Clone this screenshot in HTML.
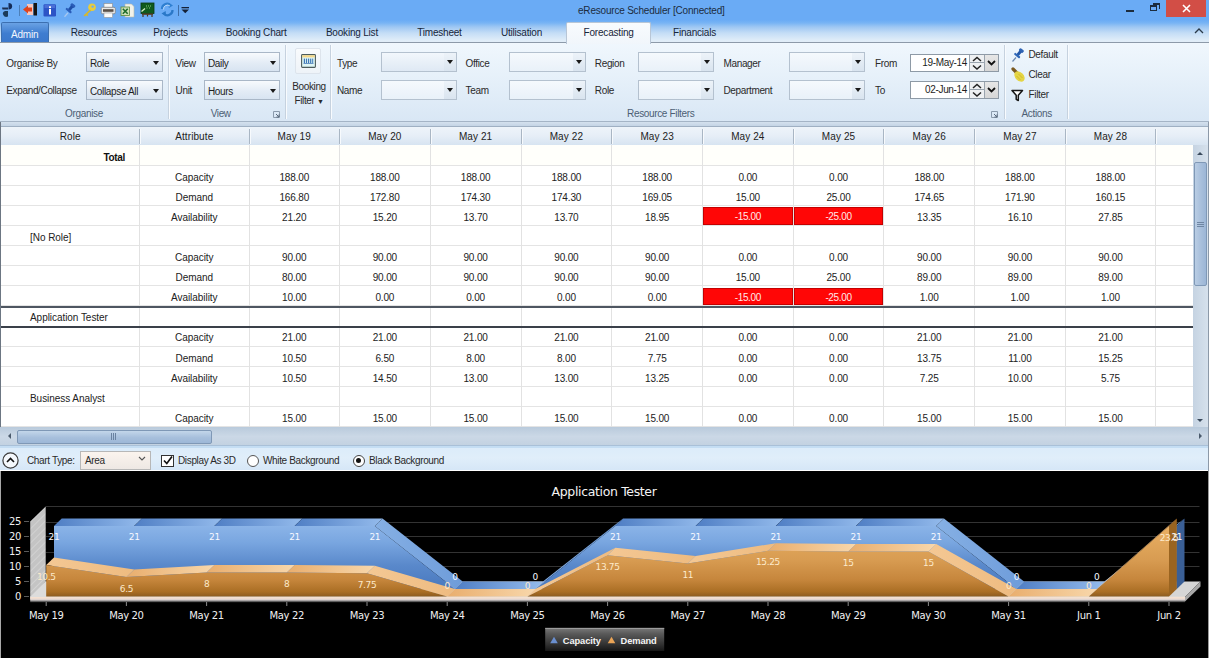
<!DOCTYPE html><html><head><meta charset="utf-8"><title>eResource Scheduler</title><style>
*{box-sizing:border-box;margin:0;padding:0}
html,body{width:1209px;height:658px;overflow:hidden;background:#fff}
body{position:relative;font-family:'Liberation Sans', Arial, sans-serif;font-size:10px;letter-spacing:-0.35px;color:#1e1e1e}
.a{position:absolute}
.t{position:absolute;white-space:nowrap;line-height:12px}
#title{left:0;top:0;width:1209px;height:42px;background:linear-gradient(#6aabf5 0px,#6aabf5 20px,#78b4f4 23px,#9ec7f3 27px,#c4ddf6 33px,#dbeaf8 39px,#e1edf8 41px)}
#ribbon{left:0;top:42px;width:1209px;height:80px;border-top:1px solid #8d9aa9;border-bottom:1px solid #a4b4c6;background:linear-gradient(#f0f7fd,#e7f1fa 40%,#d9e7f5)}
.grp{position:absolute;top:0;height:78px;border-right:1px solid #c3d0de}
.gl{position:absolute;white-space:nowrap;color:#4c5e74;line-height:12px}
.lbl{position:absolute;white-space:nowrap;color:#2a2a2a;line-height:12px}
.cb{position:absolute;height:20px;border:1px solid #a9b7c7;background:linear-gradient(#f7fafd,#e2ebf5 60%,#d8e4f1)}
.cb .v{position:absolute;left:3px;top:4.6px;line-height:12px;color:#1e1e1e}
.cb .ar{position:absolute;right:3.5px;top:7.5px;width:0;height:0;border-left:3.5px solid transparent;border-right:3.5px solid transparent;border-top:4px solid #1a1a1a}
.cbe{position:absolute;height:20px;border:1px solid #b4c1cf;background:linear-gradient(#f5f9fd,#e9f1f9)}
.cbe .btn{position:absolute;right:0;top:0;width:12px;height:18px;background:linear-gradient(#edf3f9,#d9e4ef)}
.cbe .ar{position:absolute;right:3px;top:7px;width:0;height:0;border-left:3px solid transparent;border-right:3px solid transparent;border-top:4px solid #1a1a1a}
.tab{position:absolute;top:25px;white-space:nowrap;color:#17263a;line-height:12px;letter-spacing:-0.2px}
#grid{left:0;top:122px;width:1209px;height:306px;background:#fff}
.hd{position:absolute;top:5px;height:18px;background:linear-gradient(#eef4fa,#e4edf6 50%,#d6e3f0);}
.row{position:absolute;left:1px;width:1192px;height:20px;border-bottom:1px solid #e3e3e3}
.cell{position:absolute;top:0;height:20px;text-align:center;line-height:20px;white-space:nowrap}
.vl{position:absolute;width:1px;background:#e1e1e1}
.red{position:absolute;background:#ff0606;border:1px solid #c40000;color:#ffe8e8;text-align:center;line-height:17px}
</style></head><body>
<div id="title" class="a"></div>
<svg class="a" style="left:0;top:0" width="200" height="21" viewBox="0 0 200 21"><path d="M8.5 3 A3.6 3.2 0 0 1 8.5 9.4 Z" fill="#142c58"/><path d="M2 7.6 H8 V9.6 H2.5 Z" fill="#1c3050"/><path d="M8 11 V16.5 A3.5 3 0 0 1 5 11 Z" fill="#1a3a5a"/><rect x="19" y="5" width="1" height="11" fill="#4d7fb8"/><rect x="27" y="4" width="6" height="11" fill="#f4c8c0"/><rect x="33.5" y="3" width="3.5" height="12.5" fill="#151515"/><path d="M23 9.5 L28 5.5 V7.5 H32 V11.5 H28 V13.5 Z" fill="#e0441c"/><rect x="43.5" y="4.2" width="12.5" height="12.2" rx="1.2" fill="#2d54c6"/><rect x="44.5" y="5" width="10.5" height="3" fill="#4a6ed6"/><rect x="49" y="9" width="2" height="5.5" fill="#fff"/><rect x="49" y="6.3" width="2" height="1.8" fill="#fff"/><path d="M64.5 16.8 L68 12.8" stroke="#a8c8f0" stroke-width="1.3"/><g transform="rotate(40 70 9)"><rect x="67.5" y="3" width="5" height="3" rx="1" fill="#2a5cb8"/><rect x="68.5" y="5.5" width="3" height="5" fill="#1f4fa8"/><rect x="66.5" y="10" width="7" height="2.2" rx="1" fill="#2a5cb8"/></g><circle cx="92" cy="7.2" r="3.8" fill="#e8cc3c"/><circle cx="92.6" cy="6.6" r="1.2" fill="#6aabf5"/><path d="M89.8 9.6 L83.5 15.5 L85 16.5 L86.2 15.3 L87.3 16.2 L88.4 15 L87.4 14.1 L91.3 10.8 Z" fill="#d8b828"/><rect x="104" y="3.5" width="8.5" height="4" fill="#f6f6f6" stroke="#8a8a8a" stroke-width="0.6"/><rect x="101.3" y="7.3" width="14" height="6.5" rx="1.3" fill="#e8e8e8" stroke="#7a7a7a" stroke-width="0.7"/><rect x="103" y="9.2" width="10.5" height="2.6" fill="#5a5048"/><rect x="104" y="13" width="8.5" height="4.3" fill="#fbfbfb" stroke="#9a9a9a" stroke-width="0.6"/><path d="M125 4 H131.5 L134 6.5 V17 H125 Z" fill="#f2f2ea" stroke="#b8b8a8" stroke-width="0.6"/><rect x="121" y="7" width="8.5" height="8.5" fill="#cfe0b8" stroke="#5a8a3a" stroke-width="0.8"/><path d="M122.8 8.8 L127.7 13.7 M127.7 8.8 L122.8 13.7" stroke="#1d6b2a" stroke-width="1.6"/><rect x="141" y="3" width="13" height="10.5" fill="#0f5a1e" stroke="#0a3a12" stroke-width="0.8"/><path d="M141.5 11.5 L145 8.5" stroke="#d8f0c8" stroke-width="1.3"/><path d="M146 6 h1 M148 6 h1 M150 6 h1 M146.5 8 h1 M149 8 h1" stroke="#8ad07a" stroke-width="1"/><rect x="142" y="13.5" width="11" height="1.3" fill="#5a3818"/><path d="M143 14.5 V17 M152 14.5 V17 M147.5 14.5 V16.5" stroke="#4a3018" stroke-width="1.2"/><path d="M162 9 A5 5 0 0 1 170.5 5.2" stroke="#2f7fd0" stroke-width="2.2" fill="none"/><path d="M168.5 2.8 L173 5.5 L168.8 8 Z" fill="#2f7fd0"/><path d="M172.5 10 A5 5 0 0 1 164 13.8" stroke="#2a78c8" stroke-width="2.2" fill="none"/><path d="M166 16.2 L161.5 13.5 L165.7 11 Z" fill="#2a78c8"/><path d="M163.5 9.5 A4 4 0 0 1 170 6" stroke="#cfe6fb" stroke-width="0.8" fill="none"/><rect x="178" y="5" width="1" height="11" fill="#3e6ea8"/><rect x="181.5" y="7" width="7.5" height="1.3" fill="#152238"/><path d="M181.5 9.5 H189 L185.25 13.2 Z" fill="#152238"/></svg>
<div class="t" style="left:578px;top:4.5px;color:#1c2c3e;letter-spacing:-0.2px">eResource Scheduler [Connected]</div>
<div class="a" style="left:1126px;top:10px;width:8px;height:2px;background:#1c2c3e"></div>
<div class="a" style="left:1150px;top:5px;width:7px;height:6px;border:1px solid #1c2c3e;border-top-width:2px"></div>
<div class="a" style="left:1153px;top:3px;width:7px;height:6px;border:1px solid #1c2c3e;border-top-width:2px;border-left:none;border-bottom:none"></div>
<div class="a" style="left:1166px;top:0;width:40px;height:17px;background:#d24e46"></div>
<svg class="a" style="left:1182px;top:4px" width="10" height="10"><path d="M1 1 L8 8 M8 1 L1 8" stroke="#fff" stroke-width="1.6"/></svg>
<svg class="a" style="left:1194px;top:27px" width="10" height="8"><path d="M1 6 L5 2 L9 6" stroke="#2a3a4a" stroke-width="1.3" fill="none"/></svg>
<div id="ribbon" class="a"></div>
<div class="a" style="left:1px;top:22px;width:48px;height:20px;border:1px solid #3c6fb0;border-bottom:none;border-radius:2px 2px 0 0;background:linear-gradient(#6aa2e4,#3f7dd0 55%,#3b78cc)"></div>
<div class="tab" style="left:11px;top:28.5px;color:#f2f7ff">Admin</div>
<div class="tab" style="left:70.7px;top:27px">Resources</div>
<div class="tab" style="left:153.3px;top:27px">Projects</div>
<div class="tab" style="left:225.8px;top:27px">Booking Chart</div>
<div class="tab" style="left:325.9px;top:27px">Booking List</div>
<div class="tab" style="left:417.2px;top:27px">Timesheet</div>
<div class="tab" style="left:500.9px;top:27px">Utilisation</div>
<div class="tab" style="left:673px;top:27px">Financials</div>
<div class="a" style="left:566px;top:22px;width:85px;height:22px;border:1px solid #b8c6d6;border-bottom:none;border-radius:2px 2px 0 0;background:linear-gradient(#f8fbfe,#f1f6fb)"></div>
<div class="tab" style="left:583.6px;top:27px">Forecasting</div>
<div class="a" style="left:168px;top:45px;width:1px;height:74px;background:#c6d2df"></div>
<div class="a" style="left:169px;top:45px;width:1px;height:74px;background:#f8fbfe"></div>
<div class="a" style="left:285px;top:45px;width:1px;height:74px;background:#c6d2df"></div>
<div class="a" style="left:286px;top:45px;width:1px;height:74px;background:#f8fbfe"></div>
<div class="a" style="left:330px;top:45px;width:1px;height:74px;background:#c6d2df"></div>
<div class="a" style="left:331px;top:45px;width:1px;height:74px;background:#f8fbfe"></div>
<div class="a" style="left:1004px;top:45px;width:1px;height:74px;background:#c6d2df"></div>
<div class="a" style="left:1005px;top:45px;width:1px;height:74px;background:#f8fbfe"></div>
<div class="a" style="left:1067px;top:45px;width:1px;height:74px;background:#c6d2df"></div>
<div class="a" style="left:1068px;top:45px;width:1px;height:74px;background:#f8fbfe"></div>
<div class="lbl" style="left:6.3px;top:58.3px;">Organise By</div>
<div class="lbl" style="left:6.3px;top:85.3px;">Expand/Collapse</div>
<div class="cb" style="left:86px;top:52px;width:77px;height:20px"><span class="v">Role</span><span class="ar"></span></div>
<div class="cb" style="left:86px;top:80px;width:77px;height:20px"><span class="v">Collapse All</span><span class="ar"></span></div>
<div class="gl" style="left:-16px;width:200px;text-align:center;top:107.7px">Organise</div>
<div class="lbl" style="left:175.6px;top:58.3px;">View</div>
<div class="lbl" style="left:175.6px;top:85.3px;">Unit</div>
<div class="cb" style="left:204px;top:52px;width:76px;height:20px"><span class="v">Daily</span><span class="ar"></span></div>
<div class="cb" style="left:204px;top:80px;width:76px;height:20px"><span class="v">Hours</span><span class="ar"></span></div>
<div class="gl" style="left:120.69999999999999px;width:200px;text-align:center;top:107.7px">View</div>
<svg class="a" style="left:273px;top:111px" width="8" height="8"><path d="M0.5 0.5 h6 v6 h-6 z" fill="none" stroke="#8a9aac" stroke-width="1"/><path d="M3 3 L6 6 M6 3.5 V6 H3.5" stroke="#5a6a7c" fill="none"/></svg>
<svg class="a" style="left:991px;top:111px" width="8" height="8"><path d="M0.5 0.5 h6 v6 h-6 z" fill="none" stroke="#8a9aac" stroke-width="1"/><path d="M3 3 L6 6 M6 3.5 V6 H3.5" stroke="#5a6a7c" fill="none"/></svg>
<div class="a" style="left:294.5px;top:47.5px;width:26.5px;height:26.5px;border:1px solid #dde4ec;border-radius:2px;background:linear-gradient(#f9fbfd,#eef3f8)"></div>
<svg class="a" style="left:301px;top:54px" width="15" height="14"><rect x="0.6" y="0.6" width="13.8" height="12.8" rx="0.8" fill="#dff6f4" stroke="#4d5c5c" stroke-width="1.1"/><rect x="1.2" y="1.2" width="12.6" height="2.2" fill="#f4d88a"/><g fill="#3f78b8"><rect x="2.8" y="4.6" width="1.2" height="4.4"/><rect x="4.9" y="4.6" width="1.2" height="4.4"/><rect x="7" y="4.6" width="1.2" height="4.4"/><rect x="9.1" y="4.6" width="1.2" height="4.4"/><rect x="11.2" y="4.6" width="1" height="4.4"/></g><rect x="2.5" y="9" width="10" height="0.9" fill="#5a8ac0"/></svg>
<div class="lbl" style="left:259px;width:100px;text-align:center;top:81px">Booking</div>
<div class="lbl" style="left:259px;width:100px;text-align:center;top:95px">Filter <span style="font-size:7px">&#9660;</span></div>
<div class="lbl" style="left:337px;top:58.3px;">Type</div>
<div class="lbl" style="left:337px;top:85.3px;">Name</div>
<div class="cbe" style="left:380.6px;top:52px;width:76px;height:20px;background:linear-gradient(#f2f7fc,#dfe9f4);"><span class="btn"></span><span class="ar"></span></div>
<div class="cbe" style="left:380.6px;top:80px;width:76px;height:20px;"><span class="btn"></span><span class="ar"></span></div>
<div class="lbl" style="left:465.6px;top:58.3px;">Office</div>
<div class="lbl" style="left:465.6px;top:85.3px;">Team</div>
<div class="cbe" style="left:509px;top:52px;width:77px;height:20px;"><span class="btn"></span><span class="ar"></span></div>
<div class="cbe" style="left:509px;top:80px;width:77px;height:20px;"><span class="btn"></span><span class="ar"></span></div>
<div class="lbl" style="left:594.8px;top:58.3px;">Region</div>
<div class="lbl" style="left:594.8px;top:85.3px;">Role</div>
<div class="cbe" style="left:638.3px;top:52px;width:76px;height:20px;"><span class="btn"></span><span class="ar"></span></div>
<div class="cbe" style="left:638.3px;top:80px;width:76px;height:20px;"><span class="btn"></span><span class="ar"></span></div>
<div class="lbl" style="left:723.5px;top:58.3px;">Manager</div>
<div class="lbl" style="left:723.5px;top:85.3px;">Department</div>
<div class="cbe" style="left:789.2px;top:52px;width:76px;height:20px;"><span class="btn"></span><span class="ar"></span></div>
<div class="cbe" style="left:789.2px;top:80px;width:76px;height:20px;"><span class="btn"></span><span class="ar"></span></div>
<div class="lbl" style="left:875px;top:58.3px;">From</div>
<div class="lbl" style="left:875px;top:85.3px;">To</div>
<div class="gl" style="left:560.7px;width:200px;text-align:center;top:107.7px">Resource Filters</div>
<div class="a" style="left:910px;top:54px;width:89px;height:18px;border:1px solid #8e9aa6;background:#fff"></div>
<div class="lbl" style="left:911px;width:56px;text-align:right;top:57px;color:#1e1e1e">19-May-14</div>
<div class="a" style="left:969px;top:55px;width:15px;height:16px;background:#eef0f2;border-left:1px solid #9aa4ae"></div>
<div class="a" style="left:969px;top:62px;width:15px;height:1px;background:#9aa4ae"></div>
<svg class="a" style="left:971px;top:55px" width="12" height="16"><path d="M2 6 L6 2.5 L10 6" stroke="#222" stroke-width="1.5" fill="none"/><path d="M2 10.5 L6 14 L10 10.5" stroke="#222" stroke-width="1.5" fill="none"/></svg>
<div class="a" style="left:984px;top:55px;width:14px;height:16px;background:linear-gradient(#e6e6e6,#d6d6d6);border-left:1px solid #9aa4ae"></div>
<svg class="a" style="left:986px;top:59px" width="11" height="8"><path d="M2 2 L5.5 5.5 L9 2" stroke="#111" stroke-width="1.8" fill="none"/></svg>
<div class="a" style="left:910px;top:81px;width:89px;height:18px;border:1px solid #8e9aa6;background:#fff"></div>
<div class="lbl" style="left:911px;width:56px;text-align:right;top:84px;color:#1e1e1e">02-Jun-14</div>
<div class="a" style="left:969px;top:82px;width:15px;height:16px;background:#eef0f2;border-left:1px solid #9aa4ae"></div>
<div class="a" style="left:969px;top:89px;width:15px;height:1px;background:#9aa4ae"></div>
<svg class="a" style="left:971px;top:82px" width="12" height="16"><path d="M2 6 L6 2.5 L10 6" stroke="#222" stroke-width="1.5" fill="none"/><path d="M2 10.5 L6 14 L10 10.5" stroke="#222" stroke-width="1.5" fill="none"/></svg>
<div class="a" style="left:984px;top:82px;width:14px;height:16px;background:linear-gradient(#e6e6e6,#d6d6d6);border-left:1px solid #9aa4ae"></div>
<svg class="a" style="left:986px;top:86px" width="11" height="8"><path d="M2 2 L5.5 5.5 L9 2" stroke="#111" stroke-width="1.8" fill="none"/></svg>
<svg class="a" style="left:1011px;top:47px" width="14" height="16"><path d="M1.5 14.5 L5 10.5" stroke="#6a88b0" stroke-width="1.2"/><g transform="rotate(40 7.5 7)"><rect x="5" y="1" width="5" height="3" rx="1" fill="#2f64b4"/><rect x="6" y="3.5" width="3" height="5" fill="#2458a8"/><rect x="4" y="8" width="7" height="2.2" rx="1" fill="#3068b8"/></g></svg>
<svg class="a" style="left:1010px;top:66px" width="17" height="18"><path d="M3 3 L6.5 6.5" stroke="#7a5a22" stroke-width="3.2" stroke-linecap="round"/><ellipse cx="9.5" cy="10.5" rx="6" ry="4.2" transform="rotate(45 9.5 10.5)" fill="#e4d444"/><path d="M6.5 10 L10.5 14 M8.5 8 L12.5 12" stroke="#c9b228" stroke-width="0.8"/></svg>
<svg class="a" style="left:1011px;top:89px" width="13" height="13"><path d="M1 1.5 H11.5 L7.3 6.3 V11.5 L5.2 10.3 V6.3 Z" fill="#fff" stroke="#151515" stroke-width="1.5" stroke-linejoin="round"/></svg>
<div class="lbl" style="left:1028.5px;top:49.3px;">Default</div>
<div class="lbl" style="left:1028.5px;top:69.3px;">Clear</div>
<div class="lbl" style="left:1028.5px;top:89.3px;">Filter</div>
<div class="gl" style="left:936.7px;width:200px;text-align:center;top:107.7px">Actions</div>
<div class="a" style="left:0;top:122px;width:1209px;height:5px;background:linear-gradient(#d4e1ee,#c4d4e5);border-bottom:1px solid #9fb0c3"></div>
<div class="a" style="left:0;top:127px;width:1209px;height:18px;background:linear-gradient(#eef4fa,#e6eef7 50%,#d7e4f1)"></div>
<div class="a" style="left:0;top:122px;width:1px;height:306px;background:#6c7682"></div>
<div class="t" style="left:1px;width:138.5px;text-align:center;top:131px;color:#222;letter-spacing:0.1px">Role</div>
<div class="t" style="left:139.5px;width:109.5px;text-align:center;top:131px;color:#222;letter-spacing:0.1px">Attribute</div>
<div class="t" style="left:249px;width:90.5px;text-align:center;top:131px;color:#222;letter-spacing:0.1px">May 19</div>
<div class="t" style="left:339.5px;width:90.69999999999999px;text-align:center;top:131px;color:#222;letter-spacing:0.1px">May 20</div>
<div class="t" style="left:430.2px;width:90.80000000000001px;text-align:center;top:131px;color:#222;letter-spacing:0.1px">May 21</div>
<div class="t" style="left:521px;width:90.79999999999995px;text-align:center;top:131px;color:#222;letter-spacing:0.1px">May 22</div>
<div class="t" style="left:611.8px;width:90.70000000000005px;text-align:center;top:131px;color:#222;letter-spacing:0.1px">May 23</div>
<div class="t" style="left:702.5px;width:90.70000000000005px;text-align:center;top:131px;color:#222;letter-spacing:0.1px">May 24</div>
<div class="t" style="left:793.2px;width:90.69999999999993px;text-align:center;top:131px;color:#222;letter-spacing:0.1px">May 25</div>
<div class="t" style="left:883.9px;width:90.70000000000005px;text-align:center;top:131px;color:#222;letter-spacing:0.1px">May 26</div>
<div class="t" style="left:974.6px;width:90.69999999999993px;text-align:center;top:131px;color:#222;letter-spacing:0.1px">May 27</div>
<div class="t" style="left:1065.3px;width:90.29999999999995px;text-align:center;top:131px;color:#222;letter-spacing:0.1px">May 28</div>
<div class="t" style="left:1155.6px;width:52.40000000000009px;text-align:center;top:131px;color:#222;letter-spacing:0.1px"></div>
<div class="a" style="left:139.0px;top:129px;width:1px;height:15px;background:#a9b6c4"></div>
<div class="a" style="left:140.0px;top:129px;width:1px;height:15px;background:#f7fafd"></div>
<div class="a" style="left:248.5px;top:129px;width:1px;height:15px;background:#a9b6c4"></div>
<div class="a" style="left:249.5px;top:129px;width:1px;height:15px;background:#f7fafd"></div>
<div class="a" style="left:339.0px;top:129px;width:1px;height:15px;background:#a9b6c4"></div>
<div class="a" style="left:340.0px;top:129px;width:1px;height:15px;background:#f7fafd"></div>
<div class="a" style="left:429.7px;top:129px;width:1px;height:15px;background:#a9b6c4"></div>
<div class="a" style="left:430.7px;top:129px;width:1px;height:15px;background:#f7fafd"></div>
<div class="a" style="left:520.5px;top:129px;width:1px;height:15px;background:#a9b6c4"></div>
<div class="a" style="left:521.5px;top:129px;width:1px;height:15px;background:#f7fafd"></div>
<div class="a" style="left:611.3px;top:129px;width:1px;height:15px;background:#a9b6c4"></div>
<div class="a" style="left:612.3px;top:129px;width:1px;height:15px;background:#f7fafd"></div>
<div class="a" style="left:702.0px;top:129px;width:1px;height:15px;background:#a9b6c4"></div>
<div class="a" style="left:703.0px;top:129px;width:1px;height:15px;background:#f7fafd"></div>
<div class="a" style="left:792.7px;top:129px;width:1px;height:15px;background:#a9b6c4"></div>
<div class="a" style="left:793.7px;top:129px;width:1px;height:15px;background:#f7fafd"></div>
<div class="a" style="left:883.4px;top:129px;width:1px;height:15px;background:#a9b6c4"></div>
<div class="a" style="left:884.4px;top:129px;width:1px;height:15px;background:#f7fafd"></div>
<div class="a" style="left:974.1px;top:129px;width:1px;height:15px;background:#a9b6c4"></div>
<div class="a" style="left:975.1px;top:129px;width:1px;height:15px;background:#f7fafd"></div>
<div class="a" style="left:1064.8px;top:129px;width:1px;height:15px;background:#a9b6c4"></div>
<div class="a" style="left:1065.8px;top:129px;width:1px;height:15px;background:#f7fafd"></div>
<div class="a" style="left:1155.1px;top:129px;width:1px;height:15px;background:#a9b6c4"></div>
<div class="a" style="left:1156.1px;top:129px;width:1px;height:15px;background:#f7fafd"></div>
<div class="a" style="left:1px;top:145.20px;width:1192px;height:20.10px;background:#fffffb"></div>
<div class="a" style="left:1px;top:164.70px;width:1192px;height:1px;background:#e4e4e4"></div>
<div class="a" style="left:1px;top:184.80px;width:1192px;height:1px;background:#e4e4e4"></div>
<div class="a" style="left:1px;top:204.90px;width:1192px;height:1px;background:#e4e4e4"></div>
<div class="a" style="left:1px;top:225.00px;width:1192px;height:1px;background:#e4e4e4"></div>
<div class="a" style="left:1px;top:245.10px;width:1192px;height:1px;background:#e4e4e4"></div>
<div class="a" style="left:1px;top:265.20px;width:1192px;height:1px;background:#e4e4e4"></div>
<div class="a" style="left:1px;top:285.30px;width:1192px;height:1px;background:#e4e4e4"></div>
<div class="a" style="left:1px;top:305.40px;width:1192px;height:1px;background:#e4e4e4"></div>
<div class="a" style="left:1px;top:325.50px;width:1192px;height:1px;background:#e4e4e4"></div>
<div class="a" style="left:1px;top:345.60px;width:1192px;height:1px;background:#e4e4e4"></div>
<div class="a" style="left:1px;top:365.70px;width:1192px;height:1px;background:#e4e4e4"></div>
<div class="a" style="left:1px;top:385.80px;width:1192px;height:1px;background:#e4e4e4"></div>
<div class="a" style="left:1px;top:405.90px;width:1192px;height:1px;background:#e4e4e4"></div>
<div class="a" style="left:1px;top:426.00px;width:1192px;height:1px;background:#e4e4e4"></div>
<div class="a" style="left:139.0px;top:145px;width:1px;height:283px;background:#e2e2e2"></div>
<div class="a" style="left:248.5px;top:145px;width:1px;height:283px;background:#e2e2e2"></div>
<div class="a" style="left:339.0px;top:145px;width:1px;height:283px;background:#e2e2e2"></div>
<div class="a" style="left:429.7px;top:145px;width:1px;height:283px;background:#e2e2e2"></div>
<div class="a" style="left:520.5px;top:145px;width:1px;height:283px;background:#e2e2e2"></div>
<div class="a" style="left:611.3px;top:145px;width:1px;height:283px;background:#e2e2e2"></div>
<div class="a" style="left:702.0px;top:145px;width:1px;height:283px;background:#e2e2e2"></div>
<div class="a" style="left:792.7px;top:145px;width:1px;height:283px;background:#e2e2e2"></div>
<div class="a" style="left:883.4px;top:145px;width:1px;height:283px;background:#e2e2e2"></div>
<div class="a" style="left:974.1px;top:145px;width:1px;height:283px;background:#e2e2e2"></div>
<div class="a" style="left:1064.8px;top:145px;width:1px;height:283px;background:#e2e2e2"></div>
<div class="a" style="left:1155.1px;top:145px;width:1px;height:283px;background:#e2e2e2"></div>
<div class="a" style="left:1px;top:305.70px;width:1192px;height:2px;background:#4e5661"></div>
<div class="a" style="left:1px;top:325.80px;width:1192px;height:2px;background:#3a4049"></div>
<div class="t" style="left:20px;width:105px;text-align:right;top:151.5px;font-weight:bold;color:#111">Total</div>
<div class="t" style="left:139.5px;width:109.5px;text-align:center;top:171.6px;color:#222;letter-spacing:-0.05px">Capacity</div>
<div class="t" style="left:249px;width:90.5px;text-align:center;top:171.6px;color:#222;letter-spacing:-0.15px">188.00</div>
<div class="t" style="left:339.5px;width:90.69999999999999px;text-align:center;top:171.6px;color:#222;letter-spacing:-0.15px">188.00</div>
<div class="t" style="left:430.2px;width:90.80000000000001px;text-align:center;top:171.6px;color:#222;letter-spacing:-0.15px">188.00</div>
<div class="t" style="left:521px;width:90.79999999999995px;text-align:center;top:171.6px;color:#222;letter-spacing:-0.15px">188.00</div>
<div class="t" style="left:611.8px;width:90.70000000000005px;text-align:center;top:171.6px;color:#222;letter-spacing:-0.15px">188.00</div>
<div class="t" style="left:702.5px;width:90.70000000000005px;text-align:center;top:171.6px;color:#222;letter-spacing:-0.15px">0.00</div>
<div class="t" style="left:793.2px;width:90.69999999999993px;text-align:center;top:171.6px;color:#222;letter-spacing:-0.15px">0.00</div>
<div class="t" style="left:883.9px;width:90.70000000000005px;text-align:center;top:171.6px;color:#222;letter-spacing:-0.15px">188.00</div>
<div class="t" style="left:974.6px;width:90.69999999999993px;text-align:center;top:171.6px;color:#222;letter-spacing:-0.15px">188.00</div>
<div class="t" style="left:1065.3px;width:90.29999999999995px;text-align:center;top:171.6px;color:#222;letter-spacing:-0.15px">188.00</div>
<div class="t" style="left:139.5px;width:109.5px;text-align:center;top:191.7px;color:#222;letter-spacing:-0.05px">Demand</div>
<div class="t" style="left:249px;width:90.5px;text-align:center;top:191.7px;color:#222;letter-spacing:-0.15px">166.80</div>
<div class="t" style="left:339.5px;width:90.69999999999999px;text-align:center;top:191.7px;color:#222;letter-spacing:-0.15px">172.80</div>
<div class="t" style="left:430.2px;width:90.80000000000001px;text-align:center;top:191.7px;color:#222;letter-spacing:-0.15px">174.30</div>
<div class="t" style="left:521px;width:90.79999999999995px;text-align:center;top:191.7px;color:#222;letter-spacing:-0.15px">174.30</div>
<div class="t" style="left:611.8px;width:90.70000000000005px;text-align:center;top:191.7px;color:#222;letter-spacing:-0.15px">169.05</div>
<div class="t" style="left:702.5px;width:90.70000000000005px;text-align:center;top:191.7px;color:#222;letter-spacing:-0.15px">15.00</div>
<div class="t" style="left:793.2px;width:90.69999999999993px;text-align:center;top:191.7px;color:#222;letter-spacing:-0.15px">25.00</div>
<div class="t" style="left:883.9px;width:90.70000000000005px;text-align:center;top:191.7px;color:#222;letter-spacing:-0.15px">174.65</div>
<div class="t" style="left:974.6px;width:90.69999999999993px;text-align:center;top:191.7px;color:#222;letter-spacing:-0.15px">171.90</div>
<div class="t" style="left:1065.3px;width:90.29999999999995px;text-align:center;top:191.7px;color:#222;letter-spacing:-0.15px">160.15</div>
<div class="t" style="left:139.5px;width:109.5px;text-align:center;top:211.8px;color:#222;letter-spacing:-0.05px">Availability</div>
<div class="t" style="left:249px;width:90.5px;text-align:center;top:211.8px;color:#222;letter-spacing:-0.15px">21.20</div>
<div class="t" style="left:339.5px;width:90.69999999999999px;text-align:center;top:211.8px;color:#222;letter-spacing:-0.15px">15.20</div>
<div class="t" style="left:430.2px;width:90.80000000000001px;text-align:center;top:211.8px;color:#222;letter-spacing:-0.15px">13.70</div>
<div class="t" style="left:521px;width:90.79999999999995px;text-align:center;top:211.8px;color:#222;letter-spacing:-0.15px">13.70</div>
<div class="t" style="left:611.8px;width:90.70000000000005px;text-align:center;top:211.8px;color:#222;letter-spacing:-0.15px">18.95</div>
<div class="red" style="left:703.0px;top:207.1px;width:89.7px;height:17.9px">-15.00</div>
<div class="red" style="left:793.7px;top:207.1px;width:89.7px;height:17.9px">-25.00</div>
<div class="t" style="left:883.9px;width:90.70000000000005px;text-align:center;top:211.8px;color:#222;letter-spacing:-0.15px">13.35</div>
<div class="t" style="left:974.6px;width:90.69999999999993px;text-align:center;top:211.8px;color:#222;letter-spacing:-0.15px">16.10</div>
<div class="t" style="left:1065.3px;width:90.29999999999995px;text-align:center;top:211.8px;color:#222;letter-spacing:-0.15px">27.85</div>
<div class="t" style="left:30px;top:231.9px;color:#222;letter-spacing:-0.05px">[No Role]</div>
<div class="t" style="left:139.5px;width:109.5px;text-align:center;top:252.0px;color:#222;letter-spacing:-0.05px">Capacity</div>
<div class="t" style="left:249px;width:90.5px;text-align:center;top:252.0px;color:#222;letter-spacing:-0.15px">90.00</div>
<div class="t" style="left:339.5px;width:90.69999999999999px;text-align:center;top:252.0px;color:#222;letter-spacing:-0.15px">90.00</div>
<div class="t" style="left:430.2px;width:90.80000000000001px;text-align:center;top:252.0px;color:#222;letter-spacing:-0.15px">90.00</div>
<div class="t" style="left:521px;width:90.79999999999995px;text-align:center;top:252.0px;color:#222;letter-spacing:-0.15px">90.00</div>
<div class="t" style="left:611.8px;width:90.70000000000005px;text-align:center;top:252.0px;color:#222;letter-spacing:-0.15px">90.00</div>
<div class="t" style="left:702.5px;width:90.70000000000005px;text-align:center;top:252.0px;color:#222;letter-spacing:-0.15px">0.00</div>
<div class="t" style="left:793.2px;width:90.69999999999993px;text-align:center;top:252.0px;color:#222;letter-spacing:-0.15px">0.00</div>
<div class="t" style="left:883.9px;width:90.70000000000005px;text-align:center;top:252.0px;color:#222;letter-spacing:-0.15px">90.00</div>
<div class="t" style="left:974.6px;width:90.69999999999993px;text-align:center;top:252.0px;color:#222;letter-spacing:-0.15px">90.00</div>
<div class="t" style="left:1065.3px;width:90.29999999999995px;text-align:center;top:252.0px;color:#222;letter-spacing:-0.15px">90.00</div>
<div class="t" style="left:139.5px;width:109.5px;text-align:center;top:272.1px;color:#222;letter-spacing:-0.05px">Demand</div>
<div class="t" style="left:249px;width:90.5px;text-align:center;top:272.1px;color:#222;letter-spacing:-0.15px">80.00</div>
<div class="t" style="left:339.5px;width:90.69999999999999px;text-align:center;top:272.1px;color:#222;letter-spacing:-0.15px">90.00</div>
<div class="t" style="left:430.2px;width:90.80000000000001px;text-align:center;top:272.1px;color:#222;letter-spacing:-0.15px">90.00</div>
<div class="t" style="left:521px;width:90.79999999999995px;text-align:center;top:272.1px;color:#222;letter-spacing:-0.15px">90.00</div>
<div class="t" style="left:611.8px;width:90.70000000000005px;text-align:center;top:272.1px;color:#222;letter-spacing:-0.15px">90.00</div>
<div class="t" style="left:702.5px;width:90.70000000000005px;text-align:center;top:272.1px;color:#222;letter-spacing:-0.15px">15.00</div>
<div class="t" style="left:793.2px;width:90.69999999999993px;text-align:center;top:272.1px;color:#222;letter-spacing:-0.15px">25.00</div>
<div class="t" style="left:883.9px;width:90.70000000000005px;text-align:center;top:272.1px;color:#222;letter-spacing:-0.15px">89.00</div>
<div class="t" style="left:974.6px;width:90.69999999999993px;text-align:center;top:272.1px;color:#222;letter-spacing:-0.15px">89.00</div>
<div class="t" style="left:1065.3px;width:90.29999999999995px;text-align:center;top:272.1px;color:#222;letter-spacing:-0.15px">89.00</div>
<div class="t" style="left:139.5px;width:109.5px;text-align:center;top:292.2px;color:#222;letter-spacing:-0.05px">Availability</div>
<div class="t" style="left:249px;width:90.5px;text-align:center;top:292.2px;color:#222;letter-spacing:-0.15px">10.00</div>
<div class="t" style="left:339.5px;width:90.69999999999999px;text-align:center;top:292.2px;color:#222;letter-spacing:-0.15px">0.00</div>
<div class="t" style="left:430.2px;width:90.80000000000001px;text-align:center;top:292.2px;color:#222;letter-spacing:-0.15px">0.00</div>
<div class="t" style="left:521px;width:90.79999999999995px;text-align:center;top:292.2px;color:#222;letter-spacing:-0.15px">0.00</div>
<div class="t" style="left:611.8px;width:90.70000000000005px;text-align:center;top:292.2px;color:#222;letter-spacing:-0.15px">0.00</div>
<div class="red" style="left:703.0px;top:287.5px;width:89.7px;height:17.9px">-15.00</div>
<div class="red" style="left:793.7px;top:287.5px;width:89.7px;height:17.9px">-25.00</div>
<div class="t" style="left:883.9px;width:90.70000000000005px;text-align:center;top:292.2px;color:#222;letter-spacing:-0.15px">1.00</div>
<div class="t" style="left:974.6px;width:90.69999999999993px;text-align:center;top:292.2px;color:#222;letter-spacing:-0.15px">1.00</div>
<div class="t" style="left:1065.3px;width:90.29999999999995px;text-align:center;top:292.2px;color:#222;letter-spacing:-0.15px">1.00</div>
<div class="t" style="left:30px;top:312.3px;color:#222;letter-spacing:-0.05px">Application Tester</div>
<div class="t" style="left:139.5px;width:109.5px;text-align:center;top:332.4px;color:#222;letter-spacing:-0.05px">Capacity</div>
<div class="t" style="left:249px;width:90.5px;text-align:center;top:332.4px;color:#222;letter-spacing:-0.15px">21.00</div>
<div class="t" style="left:339.5px;width:90.69999999999999px;text-align:center;top:332.4px;color:#222;letter-spacing:-0.15px">21.00</div>
<div class="t" style="left:430.2px;width:90.80000000000001px;text-align:center;top:332.4px;color:#222;letter-spacing:-0.15px">21.00</div>
<div class="t" style="left:521px;width:90.79999999999995px;text-align:center;top:332.4px;color:#222;letter-spacing:-0.15px">21.00</div>
<div class="t" style="left:611.8px;width:90.70000000000005px;text-align:center;top:332.4px;color:#222;letter-spacing:-0.15px">21.00</div>
<div class="t" style="left:702.5px;width:90.70000000000005px;text-align:center;top:332.4px;color:#222;letter-spacing:-0.15px">0.00</div>
<div class="t" style="left:793.2px;width:90.69999999999993px;text-align:center;top:332.4px;color:#222;letter-spacing:-0.15px">0.00</div>
<div class="t" style="left:883.9px;width:90.70000000000005px;text-align:center;top:332.4px;color:#222;letter-spacing:-0.15px">21.00</div>
<div class="t" style="left:974.6px;width:90.69999999999993px;text-align:center;top:332.4px;color:#222;letter-spacing:-0.15px">21.00</div>
<div class="t" style="left:1065.3px;width:90.29999999999995px;text-align:center;top:332.4px;color:#222;letter-spacing:-0.15px">21.00</div>
<div class="t" style="left:139.5px;width:109.5px;text-align:center;top:352.5px;color:#222;letter-spacing:-0.05px">Demand</div>
<div class="t" style="left:249px;width:90.5px;text-align:center;top:352.5px;color:#222;letter-spacing:-0.15px">10.50</div>
<div class="t" style="left:339.5px;width:90.69999999999999px;text-align:center;top:352.5px;color:#222;letter-spacing:-0.15px">6.50</div>
<div class="t" style="left:430.2px;width:90.80000000000001px;text-align:center;top:352.5px;color:#222;letter-spacing:-0.15px">8.00</div>
<div class="t" style="left:521px;width:90.79999999999995px;text-align:center;top:352.5px;color:#222;letter-spacing:-0.15px">8.00</div>
<div class="t" style="left:611.8px;width:90.70000000000005px;text-align:center;top:352.5px;color:#222;letter-spacing:-0.15px">7.75</div>
<div class="t" style="left:702.5px;width:90.70000000000005px;text-align:center;top:352.5px;color:#222;letter-spacing:-0.15px">0.00</div>
<div class="t" style="left:793.2px;width:90.69999999999993px;text-align:center;top:352.5px;color:#222;letter-spacing:-0.15px">0.00</div>
<div class="t" style="left:883.9px;width:90.70000000000005px;text-align:center;top:352.5px;color:#222;letter-spacing:-0.15px">13.75</div>
<div class="t" style="left:974.6px;width:90.69999999999993px;text-align:center;top:352.5px;color:#222;letter-spacing:-0.15px">11.00</div>
<div class="t" style="left:1065.3px;width:90.29999999999995px;text-align:center;top:352.5px;color:#222;letter-spacing:-0.15px">15.25</div>
<div class="t" style="left:139.5px;width:109.5px;text-align:center;top:372.6px;color:#222;letter-spacing:-0.05px">Availability</div>
<div class="t" style="left:249px;width:90.5px;text-align:center;top:372.6px;color:#222;letter-spacing:-0.15px">10.50</div>
<div class="t" style="left:339.5px;width:90.69999999999999px;text-align:center;top:372.6px;color:#222;letter-spacing:-0.15px">14.50</div>
<div class="t" style="left:430.2px;width:90.80000000000001px;text-align:center;top:372.6px;color:#222;letter-spacing:-0.15px">13.00</div>
<div class="t" style="left:521px;width:90.79999999999995px;text-align:center;top:372.6px;color:#222;letter-spacing:-0.15px">13.00</div>
<div class="t" style="left:611.8px;width:90.70000000000005px;text-align:center;top:372.6px;color:#222;letter-spacing:-0.15px">13.25</div>
<div class="t" style="left:702.5px;width:90.70000000000005px;text-align:center;top:372.6px;color:#222;letter-spacing:-0.15px">0.00</div>
<div class="t" style="left:793.2px;width:90.69999999999993px;text-align:center;top:372.6px;color:#222;letter-spacing:-0.15px">0.00</div>
<div class="t" style="left:883.9px;width:90.70000000000005px;text-align:center;top:372.6px;color:#222;letter-spacing:-0.15px">7.25</div>
<div class="t" style="left:974.6px;width:90.69999999999993px;text-align:center;top:372.6px;color:#222;letter-spacing:-0.15px">10.00</div>
<div class="t" style="left:1065.3px;width:90.29999999999995px;text-align:center;top:372.6px;color:#222;letter-spacing:-0.15px">5.75</div>
<div class="t" style="left:30px;top:392.7px;color:#222;letter-spacing:-0.05px">Business Analyst</div>
<div class="t" style="left:139.5px;width:109.5px;text-align:center;top:412.8px;color:#222;letter-spacing:-0.05px">Capacity</div>
<div class="t" style="left:249px;width:90.5px;text-align:center;top:412.8px;color:#222;letter-spacing:-0.15px">15.00</div>
<div class="t" style="left:339.5px;width:90.69999999999999px;text-align:center;top:412.8px;color:#222;letter-spacing:-0.15px">15.00</div>
<div class="t" style="left:430.2px;width:90.80000000000001px;text-align:center;top:412.8px;color:#222;letter-spacing:-0.15px">15.00</div>
<div class="t" style="left:521px;width:90.79999999999995px;text-align:center;top:412.8px;color:#222;letter-spacing:-0.15px">15.00</div>
<div class="t" style="left:611.8px;width:90.70000000000005px;text-align:center;top:412.8px;color:#222;letter-spacing:-0.15px">15.00</div>
<div class="t" style="left:702.5px;width:90.70000000000005px;text-align:center;top:412.8px;color:#222;letter-spacing:-0.15px">0.00</div>
<div class="t" style="left:793.2px;width:90.69999999999993px;text-align:center;top:412.8px;color:#222;letter-spacing:-0.15px">0.00</div>
<div class="t" style="left:883.9px;width:90.70000000000005px;text-align:center;top:412.8px;color:#222;letter-spacing:-0.15px">15.00</div>
<div class="t" style="left:974.6px;width:90.69999999999993px;text-align:center;top:412.8px;color:#222;letter-spacing:-0.15px">15.00</div>
<div class="t" style="left:1065.3px;width:90.29999999999995px;text-align:center;top:412.8px;color:#222;letter-spacing:-0.15px">15.00</div>
<div class="a" style="left:1193px;top:145px;width:15px;height:283px;background:linear-gradient(90deg,#c5d3e2,#d6e1ec)"></div>
<div class="a" style="left:1194px;top:162px;width:13px;height:124px;border:1px solid #7f98b6;border-radius:2px;background:linear-gradient(90deg,#b9cde4,#a9c0dc 50%,#9cb6d6)"></div>
<div class="a" style="left:1197px;top:222px;width:7px;height:5px;border-top:1px solid #6f86a3;border-bottom:1px solid #6f86a3"></div><div class="a" style="left:1197px;top:224px;width:7px;height:1px;background:#6f86a3"></div>
<div class="a" style="left:1197px;top:152px;width:0;height:0;border-left:3.5px solid transparent;border-right:3.5px solid transparent;border-bottom:3.5px solid #3a4a5c"></div>
<div class="a" style="left:1197px;top:419px;width:0;height:0;border-left:3.5px solid transparent;border-right:3.5px solid transparent;border-top:3.5px solid #3a4a5c"></div>
<div class="a" style="left:1208px;top:122px;width:1px;height:349px;background:#8c99a8"></div>
<div class="a" style="left:0;top:426.5px;width:1209px;height:19px;background:linear-gradient(#b9cadc,#cbd8e6 50%,#c2d1e1)"></div>
<div class="a" style="left:17px;top:429.5px;width:195px;height:14.5px;border:1px solid #7f98b6;border-radius:2px;background:linear-gradient(#c3d6ea,#a7bfdc 55%,#9db7d7)"></div>
<div class="a" style="left:111px;top:433px;width:1px;height:7px;background:#6a82a0;box-shadow:2px 0 0 #6a82a0,4px 0 0 #6a82a0"></div>
<div class="a" style="left:8px;top:433px;width:0;height:0;border-top:3.5px solid transparent;border-bottom:3.5px solid transparent;border-right:3.5px solid #4a5a6c"></div>
<div class="a" style="left:1199px;top:433px;width:0;height:0;border-top:3.5px solid transparent;border-bottom:3.5px solid transparent;border-left:3.5px solid #4a5a6c"></div>
<div class="a" style="left:0;top:445px;width:1209px;height:26px;background:linear-gradient(#a9c0d8 0,#a9c0d8 1px,#c4ddf3 1px,#c4ddf3 3px,#dcecfa 3px,#e0eefa 50%,#d6e7f7 24.5px,#fff 24.5px)"></div>
<svg class="a" style="left:1px;top:452px" width="20" height="18"><circle cx="9.5" cy="8.5" r="7.6" fill="#f4f8fc" stroke="#3a3a3a" stroke-width="1.2"/><path d="M6 10 L9.5 6.5 L13 10" stroke="#111" stroke-width="1.6" fill="none"/></svg>
<div class="lbl" style="left:27px;top:454.8px;">Chart Type:</div>
<div class="a" style="left:80px;top:450.5px;width:70.5px;height:19.5px;border:1px solid #b7b7b7;background:linear-gradient(#fbf4ee,#eee8e4)"></div>
<div class="lbl" style="left:85px;top:455.3px;">Area</div>
<svg class="a" style="left:138px;top:456px" width="8" height="6"><path d="M1 1 L4 4 L7 1" stroke="#555" stroke-width="1.1" fill="none"/></svg>
<div class="a" style="left:161px;top:454.5px;width:12.5px;height:12px;border:1px solid #333;background:#fff"></div>
<svg class="a" style="left:162px;top:455px" width="12" height="11"><path d="M2 5.5 L4.8 8.5 L10 1.5" stroke="#111" stroke-width="1.7" fill="none"/></svg>
<div class="lbl" style="left:178px;top:454.8px;">Display As 3D</div>
<div class="a" style="left:246.5px;top:454.5px;width:12px;height:12px;border:1px solid #555;border-radius:50%;background:#fff"></div>
<div class="lbl" style="left:263px;top:454.8px;">White Background</div>
<div class="a" style="left:352.5px;top:454.5px;width:12px;height:12px;border:1px solid #444;border-radius:50%;background:#fff"></div>
<div class="a" style="left:356px;top:458px;width:5px;height:5px;border-radius:50%;background:#111"></div>
<div class="lbl" style="left:369px;top:454.8px;">Black Background</div>
<div class="a" style="left:1208px;top:426px;width:1px;height:45px;background:#8c99a8"></div>
<svg class="a" style="left:0;top:471px" width="1209" height="187" viewBox="0 471 1209 187"><defs><linearGradient id="gbf" gradientUnits="userSpaceOnUse" x1="0" y1="522" x2="0" y2="590"><stop offset="0" stop-color="#8fb7ea"/><stop offset="0.3" stop-color="#79a6e0"/><stop offset="0.63" stop-color="#5a89cb"/><stop offset="1" stop-color="#4878be"/></linearGradient><linearGradient id="gof" gradientUnits="userSpaceOnUse" x1="0" y1="522" x2="0" y2="597"><stop offset="0" stop-color="#ecb266"/><stop offset="0.5" stop-color="#d89c52"/><stop offset="0.77" stop-color="#c6863c"/><stop offset="0.93" stop-color="#aa6e24"/><stop offset="1" stop-color="#8a5a20"/></linearGradient><linearGradient id="gbt" x1="0" y1="0" x2="1" y2="0"><stop offset="0" stop-color="#4f7ec4"/><stop offset="1" stop-color="#94bbec"/></linearGradient><linearGradient id="got" x1="0" y1="0" x2="1" y2="0"><stop offset="0" stop-color="#e9ae6e"/><stop offset="1" stop-color="#f8d7ab"/></linearGradient><linearGradient id="gfl" x1="0" y1="0" x2="0" y2="1"><stop offset="0" stop-color="#f6e4d4"/><stop offset="0.3" stop-color="#efdcd0"/><stop offset="0.55" stop-color="#d6d0d0"/><stop offset="0.85" stop-color="#555"/><stop offset="1" stop-color="#1a1a1a"/></linearGradient><linearGradient id="glg" x1="0" y1="0" x2="0" y2="1"><stop offset="0" stop-color="#7a7a7a"/><stop offset="0.25" stop-color="#5a5a5a"/><stop offset="0.7" stop-color="#333"/><stop offset="1" stop-color="#161616"/></linearGradient><pattern id="hatch" width="5" height="5" patternUnits="userSpaceOnUse" patternTransform="rotate(45)"><rect width="5" height="5" fill="#c4c4c4"/><rect width="1" height="5" fill="#d2d2d2"/></pattern><linearGradient id="gbs" x1="0" y1="0" x2="1" y2="0"><stop offset="0" stop-color="#86b0e4"/><stop offset="1" stop-color="#6e9cda"/></linearGradient><linearGradient id="gos" x1="0" y1="0" x2="1" y2="0"><stop offset="0" stop-color="#f4c894"/><stop offset="1" stop-color="#eebb80"/></linearGradient></defs><rect x="0" y="471" width="1209" height="187" fill="#000"/><rect x="1208" y="471" width="1" height="187" fill="#9a9a9a"/><rect x="0" y="471" width="1" height="187" fill="#a8a8a8"/><line x1="45.7" y1="566.5" x2="1199.5" y2="566.5" stroke="#333" stroke-width="1"/><line x1="45.7" y1="552.5" x2="1199.5" y2="552.5" stroke="#333" stroke-width="1"/><line x1="45.7" y1="536.5" x2="1199.5" y2="536.5" stroke="#333" stroke-width="1"/><line x1="45.7" y1="522.5" x2="1199.5" y2="522.5" stroke="#333" stroke-width="1"/><line x1="45.7" y1="506.5" x2="1199.5" y2="506.5" stroke="#333" stroke-width="1"/><polygon points="30.2,521.5 45.7,506.5 45.7,581.5 30.2,600.0" fill="url(#hatch)"/><polygon points="30.2,597.0 45.7,581.5 1200.5,581.5 1185.0,597.0" fill="#d6d6d6"/><polygon points="30.2,596.7 1185.0,596.7 1185.0,602.5 30.2,602.5" fill="url(#gfl)"/><polygon points="1185.0,597.0 1200.5,581.5 1200.5,586.5 1185.0,601.5" fill="#a8a8a8"/><polygon points="30.2,597.0 45.7,581.5 46.2,581.5 46.2,597.0" fill="#dcdcdc"/><polygon points="54.0,526.0 134.2,526.0 141.9,518.5 61.7,518.5" fill="url(#gbt)"/><polygon points="134.2,526.0 214.4,526.0 222.1,518.5 141.9,518.5" fill="url(#gbt)"/><polygon points="214.4,526.0 294.6,526.0 302.3,518.5 222.1,518.5" fill="url(#gbt)"/><polygon points="294.6,526.0 374.8,526.0 382.5,518.5 302.3,518.5" fill="url(#gbt)"/><polygon points="374.8,526.0 454.9,589.0 462.7,581.5 382.5,518.5" fill="url(#gbs)"/><polygon points="454.9,589.0 535.2,589.0 542.9,581.5 462.7,581.5" fill="url(#gbt)"/><polygon points="535.2,589.0 615.4,526.0 623.1,518.5 542.9,581.5" fill="url(#gbs)"/><polygon points="615.4,526.0 695.6,526.0 703.3,518.5 623.1,518.5" fill="url(#gbt)"/><polygon points="695.6,526.0 775.8,526.0 783.5,518.5 703.3,518.5" fill="url(#gbt)"/><polygon points="775.8,526.0 856.0,526.0 863.7,518.5 783.5,518.5" fill="url(#gbt)"/><polygon points="856.0,526.0 936.2,526.0 943.9,518.5 863.7,518.5" fill="url(#gbt)"/><polygon points="936.2,526.0 1016.4,589.0 1024.1,581.5 943.9,518.5" fill="url(#gbs)"/><polygon points="1016.4,589.0 1096.6,589.0 1104.3,581.5 1024.1,581.5" fill="url(#gbt)"/><polygon points="1096.6,589.0 1176.8,526.0 1184.5,518.5 1104.3,581.5" fill="url(#gbs)"/><polygon points="1176.8,526.0 1184.5,518.5 1184.5,581.5 1176.8,589.0" fill="#3a5f96"/><polygon points="54.0,589.0 54.0,526.0 134.2,526.0 214.4,526.0 294.6,526.0 374.8,526.0 454.9,589.0 535.2,589.0 615.4,526.0 695.6,526.0 775.8,526.0 856.0,526.0 936.2,526.0 1016.4,589.0 1096.6,589.0 1176.8,526.0 1176.8,589.0" fill="url(#gbf)"/><polygon points="46.2,565.0 126.4,577.0 134.2,569.5 54.0,557.5" fill="url(#gos)"/><polygon points="126.4,577.0 206.6,572.5 214.4,565.0 134.2,569.5" fill="url(#got)"/><polygon points="206.6,572.5 286.8,572.5 294.6,565.0 214.4,565.0" fill="url(#got)"/><polygon points="286.8,572.5 367.0,573.2 374.8,565.8 294.6,565.0" fill="url(#got)"/><polygon points="367.0,573.2 447.2,596.5 454.9,589.0 374.8,565.8" fill="url(#gos)"/><polygon points="447.2,596.5 527.4,596.5 535.2,589.0 454.9,589.0" fill="url(#got)"/><polygon points="527.4,596.5 607.6,555.2 615.4,547.8 535.2,589.0" fill="url(#gos)"/><polygon points="607.6,555.2 687.8,563.5 695.6,556.0 615.4,547.8" fill="url(#gos)"/><polygon points="687.8,563.5 768.0,550.8 775.8,543.2 695.6,556.0" fill="url(#gos)"/><polygon points="768.0,550.8 848.2,551.5 856.0,544.0 775.8,543.2" fill="url(#got)"/><polygon points="848.2,551.5 928.4,551.5 936.2,544.0 856.0,544.0" fill="url(#got)"/><polygon points="928.4,551.5 1008.6,596.5 1016.4,589.0 936.2,544.0" fill="url(#gos)"/><polygon points="1008.6,596.5 1088.8,596.5 1096.6,589.0 1016.4,589.0" fill="url(#got)"/><polygon points="1088.8,596.5 1169.0,526.0 1176.8,518.5 1096.6,589.0" fill="url(#gos)"/><polygon points="1169.0,526.0 1176.8,518.5 1176.8,589.0 1169.0,596.5" fill="#9a6420"/><polygon points="46.2,596.5 46.2,565.0 126.4,577.0 206.6,572.5 286.8,572.5 367.0,573.2 447.2,596.5 527.4,596.5 607.6,555.2 687.8,563.5 768.0,550.8 848.2,551.5 928.4,551.5 1008.6,596.5 1088.8,596.5 1169.0,526.0 1169.0,596.5" fill="url(#gof)"/><line x1="46.2" y1="602" x2="46.2" y2="606" stroke="#8a8a8a"/><line x1="126.4" y1="602" x2="126.4" y2="606" stroke="#8a8a8a"/><line x1="206.6" y1="602" x2="206.6" y2="606" stroke="#8a8a8a"/><line x1="286.8" y1="602" x2="286.8" y2="606" stroke="#8a8a8a"/><line x1="367.0" y1="602" x2="367.0" y2="606" stroke="#8a8a8a"/><line x1="447.2" y1="602" x2="447.2" y2="606" stroke="#8a8a8a"/><line x1="527.4" y1="602" x2="527.4" y2="606" stroke="#8a8a8a"/><line x1="607.6" y1="602" x2="607.6" y2="606" stroke="#8a8a8a"/><line x1="687.8" y1="602" x2="687.8" y2="606" stroke="#8a8a8a"/><line x1="768.0" y1="602" x2="768.0" y2="606" stroke="#8a8a8a"/><line x1="848.2" y1="602" x2="848.2" y2="606" stroke="#8a8a8a"/><line x1="928.4" y1="602" x2="928.4" y2="606" stroke="#8a8a8a"/><line x1="1008.6" y1="602" x2="1008.6" y2="606" stroke="#8a8a8a"/><line x1="1088.8" y1="602" x2="1088.8" y2="606" stroke="#8a8a8a"/><line x1="1169.0" y1="602" x2="1169.0" y2="606" stroke="#8a8a8a"/><text x="21" y="600.0" fill="#f0f0f0" font-family="'DejaVu Sans', Verdana, sans-serif" font-size="10" text-anchor="end">0</text><line x1="24" y1="596.5" x2="29" y2="596.5" stroke="#5a5a5a"/><text x="21" y="585.0" fill="#f0f0f0" font-family="'DejaVu Sans', Verdana, sans-serif" font-size="10" text-anchor="end">5</text><line x1="24" y1="581.5" x2="29" y2="581.5" stroke="#5a5a5a"/><text x="21" y="570.0" fill="#f0f0f0" font-family="'DejaVu Sans', Verdana, sans-serif" font-size="10" text-anchor="end">10</text><line x1="24" y1="566.5" x2="29" y2="566.5" stroke="#5a5a5a"/><text x="21" y="555.0" fill="#f0f0f0" font-family="'DejaVu Sans', Verdana, sans-serif" font-size="10" text-anchor="end">15</text><line x1="24" y1="551.5" x2="29" y2="551.5" stroke="#5a5a5a"/><text x="21" y="540.0" fill="#f0f0f0" font-family="'DejaVu Sans', Verdana, sans-serif" font-size="10" text-anchor="end">20</text><line x1="24" y1="536.5" x2="29" y2="536.5" stroke="#5a5a5a"/><text x="21" y="525.0" fill="#f0f0f0" font-family="'DejaVu Sans', Verdana, sans-serif" font-size="10" text-anchor="end">25</text><line x1="24" y1="521.5" x2="29" y2="521.5" stroke="#5a5a5a"/><text x="46.2" y="618.5" fill="#f0f0f0" font-family="'DejaVu Sans', Verdana, sans-serif" font-size="10" text-anchor="middle">May 19</text><text x="126.4" y="618.5" fill="#f0f0f0" font-family="'DejaVu Sans', Verdana, sans-serif" font-size="10" text-anchor="middle">May 20</text><text x="206.6" y="618.5" fill="#f0f0f0" font-family="'DejaVu Sans', Verdana, sans-serif" font-size="10" text-anchor="middle">May 21</text><text x="286.8" y="618.5" fill="#f0f0f0" font-family="'DejaVu Sans', Verdana, sans-serif" font-size="10" text-anchor="middle">May 22</text><text x="367.0" y="618.5" fill="#f0f0f0" font-family="'DejaVu Sans', Verdana, sans-serif" font-size="10" text-anchor="middle">May 23</text><text x="447.2" y="618.5" fill="#f0f0f0" font-family="'DejaVu Sans', Verdana, sans-serif" font-size="10" text-anchor="middle">May 24</text><text x="527.4" y="618.5" fill="#f0f0f0" font-family="'DejaVu Sans', Verdana, sans-serif" font-size="10" text-anchor="middle">May 25</text><text x="607.6" y="618.5" fill="#f0f0f0" font-family="'DejaVu Sans', Verdana, sans-serif" font-size="10" text-anchor="middle">May 26</text><text x="687.8" y="618.5" fill="#f0f0f0" font-family="'DejaVu Sans', Verdana, sans-serif" font-size="10" text-anchor="middle">May 27</text><text x="768.0" y="618.5" fill="#f0f0f0" font-family="'DejaVu Sans', Verdana, sans-serif" font-size="10" text-anchor="middle">May 28</text><text x="848.2" y="618.5" fill="#f0f0f0" font-family="'DejaVu Sans', Verdana, sans-serif" font-size="10" text-anchor="middle">May 29</text><text x="928.4" y="618.5" fill="#f0f0f0" font-family="'DejaVu Sans', Verdana, sans-serif" font-size="10" text-anchor="middle">May 30</text><text x="1008.6" y="618.5" fill="#f0f0f0" font-family="'DejaVu Sans', Verdana, sans-serif" font-size="10" text-anchor="middle">May 31</text><text x="1088.8" y="618.5" fill="#f0f0f0" font-family="'DejaVu Sans', Verdana, sans-serif" font-size="10" text-anchor="middle">Jun 1</text><text x="1169.0" y="618.5" fill="#f0f0f0" font-family="'DejaVu Sans', Verdana, sans-serif" font-size="10" text-anchor="middle">Jun 2</text><text x="54.0" y="539.7" fill="#f6f8ff" font-family="'DejaVu Sans', Verdana, sans-serif" font-size="9" text-anchor="middle">21</text><text x="134.2" y="539.7" fill="#f6f8ff" font-family="'DejaVu Sans', Verdana, sans-serif" font-size="9" text-anchor="middle">21</text><text x="214.4" y="539.7" fill="#f6f8ff" font-family="'DejaVu Sans', Verdana, sans-serif" font-size="9" text-anchor="middle">21</text><text x="294.6" y="539.7" fill="#f6f8ff" font-family="'DejaVu Sans', Verdana, sans-serif" font-size="9" text-anchor="middle">21</text><text x="374.8" y="539.7" fill="#f6f8ff" font-family="'DejaVu Sans', Verdana, sans-serif" font-size="9" text-anchor="middle">21</text><text x="454.9" y="580.0" fill="#f6f8ff" font-family="'DejaVu Sans', Verdana, sans-serif" font-size="9" text-anchor="middle">0</text><text x="535.2" y="580.0" fill="#f6f8ff" font-family="'DejaVu Sans', Verdana, sans-serif" font-size="9" text-anchor="middle">0</text><text x="615.4" y="539.7" fill="#f6f8ff" font-family="'DejaVu Sans', Verdana, sans-serif" font-size="9" text-anchor="middle">21</text><text x="695.6" y="539.7" fill="#f6f8ff" font-family="'DejaVu Sans', Verdana, sans-serif" font-size="9" text-anchor="middle">21</text><text x="775.8" y="539.7" fill="#f6f8ff" font-family="'DejaVu Sans', Verdana, sans-serif" font-size="9" text-anchor="middle">21</text><text x="856.0" y="539.7" fill="#f6f8ff" font-family="'DejaVu Sans', Verdana, sans-serif" font-size="9" text-anchor="middle">21</text><text x="936.2" y="539.7" fill="#f6f8ff" font-family="'DejaVu Sans', Verdana, sans-serif" font-size="9" text-anchor="middle">21</text><text x="1016.4" y="580.0" fill="#f6f8ff" font-family="'DejaVu Sans', Verdana, sans-serif" font-size="9" text-anchor="middle">0</text><text x="1096.6" y="580.0" fill="#f6f8ff" font-family="'DejaVu Sans', Verdana, sans-serif" font-size="9" text-anchor="middle">0</text><text x="1176.8" y="539.7" fill="#f6f8ff" font-family="'DejaVu Sans', Verdana, sans-serif" font-size="9" text-anchor="middle">21</text><text x="46.2" y="579.5" fill="#fdeacb" font-family="'DejaVu Sans', Verdana, sans-serif" font-size="9" text-anchor="middle">10.5</text><text x="126.4" y="591.5" fill="#fdeacb" font-family="'DejaVu Sans', Verdana, sans-serif" font-size="9" text-anchor="middle">6.5</text><text x="206.6" y="587.0" fill="#fdeacb" font-family="'DejaVu Sans', Verdana, sans-serif" font-size="9" text-anchor="middle">8</text><text x="286.8" y="587.0" fill="#fdeacb" font-family="'DejaVu Sans', Verdana, sans-serif" font-size="9" text-anchor="middle">8</text><text x="367.0" y="587.8" fill="#fdeacb" font-family="'DejaVu Sans', Verdana, sans-serif" font-size="9" text-anchor="middle">7.75</text><text x="447.2" y="588.5" fill="#fdeacb" font-family="'DejaVu Sans', Verdana, sans-serif" font-size="9" text-anchor="middle">0</text><text x="527.4" y="588.5" fill="#fdeacb" font-family="'DejaVu Sans', Verdana, sans-serif" font-size="9" text-anchor="middle">0</text><text x="607.6" y="569.8" fill="#fdeacb" font-family="'DejaVu Sans', Verdana, sans-serif" font-size="9" text-anchor="middle">13.75</text><text x="687.8" y="578.0" fill="#fdeacb" font-family="'DejaVu Sans', Verdana, sans-serif" font-size="9" text-anchor="middle">11</text><text x="768.0" y="565.2" fill="#fdeacb" font-family="'DejaVu Sans', Verdana, sans-serif" font-size="9" text-anchor="middle">15.25</text><text x="848.2" y="566.0" fill="#fdeacb" font-family="'DejaVu Sans', Verdana, sans-serif" font-size="9" text-anchor="middle">15</text><text x="928.4" y="566.0" fill="#fdeacb" font-family="'DejaVu Sans', Verdana, sans-serif" font-size="9" text-anchor="middle">15</text><text x="1008.6" y="588.5" fill="#fdeacb" font-family="'DejaVu Sans', Verdana, sans-serif" font-size="9" text-anchor="middle">0</text><text x="1088.8" y="588.5" fill="#fdeacb" font-family="'DejaVu Sans', Verdana, sans-serif" font-size="9" text-anchor="middle">0</text><text x="1169.0" y="540.5" fill="#fdeacb" font-family="'DejaVu Sans', Verdana, sans-serif" font-size="9" text-anchor="middle">23.5</text><text x="604" y="496" fill="#f4f4f4" font-family="'DejaVu Sans', Verdana, sans-serif" font-size="12.5" text-anchor="middle">Application Tester</text><rect x="545.2" y="627.9" width="119" height="23.1" fill="url(#glg)"/><rect x="545.2" y="627.9" width="119" height="1" fill="#a0a0a0"/><polygon points="550.2,643.2 554,636.8 557.8,643.2" fill="#6a8fd0"/><text x="562.8" y="643.5" fill="#f4f4f4" font-family="'Liberation Sans', Arial, sans-serif" font-size="9.3" font-weight="bold" letter-spacing="-0.1">Capacity</text><polygon points="607.7,643.2 611.5,636.8 615.3,643.2" fill="#eaa456"/><text x="620.6" y="643.5" fill="#f4f4f4" font-family="'Liberation Sans', Arial, sans-serif" font-size="9.3" font-weight="bold" letter-spacing="-0.1">Demand</text></svg>
</body></html>
